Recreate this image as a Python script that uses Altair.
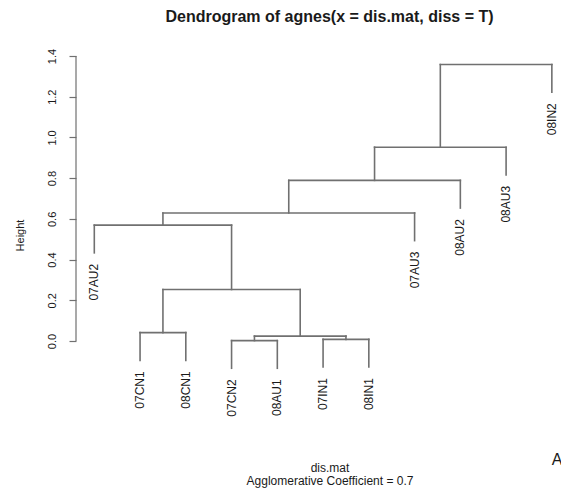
import altair as alt
import pandas as pd

# ---- data ----
leaves = ["07AU2", "07CN1", "08CN1", "07CN2", "08AU1", "07IN1", "08IN1",
          "07AU3", "08AU2", "08AU3", "08IN2"]
leaf_pos = [1, 2, 3, 4, 5, 6, 7, 8, 9, 10, 11]
leaf_end = [0.433, -0.095, -0.095, -0.134, -0.134, -0.128, -0.128,
            0.493, 0.653, 0.816, 1.222]
# R-style merge matrix: negative = leaf (1-based), positive = earlier merge
merge_left = [-4, -6, 1, -2, 4, -1, 6, 7, 8, 9]
merge_right = [-5, -7, 2, -3, 3, 5, -8, -9, -10, -11]
merge_height = [0.002, 0.008, 0.024, 0.041, 0.253, 0.569, 0.629, 0.789, 0.952, 1.358]
y_ticks = [0.0, 0.2, 0.4, 0.6, 0.8, 1.0, 1.2, 1.4]

title_text = "Dendrogram of  agnes(x = dis.mat, diss = T)"
xlab_text = "dis.mat"
sub_text = "Agglomerative Coefficient =  0.7"
panel_text = "A"

# ---- build segments ----
node_x, node_h = {}, {}


def child(c):
    if c < 0:
        return leaf_pos[-c - 1], leaf_end[-c - 1]
    return node_x[c], node_h[c]


rows = []
for i, (l, r, h) in enumerate(zip(merge_left, merge_right, merge_height), start=1):
    xl, yl = child(l)
    xr, yr = child(r)
    rows.append(dict(x=xl, x2=xr, y=h, y2=h))
    rows.append(dict(x=xl, x2=xl, y=yl, y2=h))
    rows.append(dict(x=xr, x2=xr, y=yr, y2=h))
    node_x[i] = (xl + xr) / 2
    node_h[i] = h
seg_df = pd.DataFrame(rows)
leaf_df = pd.DataFrame({"label": leaves, "x": leaf_pos, "y": leaf_end})

FONT = "Liberation Sans, Arial, Helvetica, sans-serif"
LINE = "#707070"
TEXT = "#1a1a1a"

x_domain = [0.6, 11.2]
xs = alt.Scale(domain=x_domain, nice=False, zero=False)
ys = alt.Scale(domain=[-0.727, 1.4], nice=False, zero=False)

# axis line only between first and last tick (R style)
axis_df = pd.DataFrame({"xa": [x_domain[0]], "lo": [min(y_ticks)], "hi": [max(y_ticks)]})

segs = alt.Chart(seg_df).mark_rule(color=LINE, strokeWidth=1.6, strokeCap="square").encode(
    x=alt.X("x:Q", scale=xs, axis=None),
    x2="x2:Q",
    y=alt.Y("y:Q", scale=ys, axis=alt.Axis(
        values=y_ticks, format=".1f", labelAngle=270, labelAlign="center",
        labelBaseline="bottom", labelPadding=12, tickSize=7, tickColor=LINE,
        tickWidth=1.2, domain=False, grid=False, labelFont=FONT,
        labelFontSize=11,
        labelColor=TEXT, title="Height", titleFont=FONT, titleFontSize=11,
        titleFontWeight="normal", titleColor=TEXT, titleAngle=270,
        titleAlign="center", titleBaseline="middle", titleX=-56, titleY=179)),
    y2="y2:Q",
)

axis_line = alt.Chart(axis_df).mark_rule(color=LINE, strokeWidth=1.2).encode(
    x=alt.X("xa:Q", scale=xs, axis=None),
    x2="xa:Q",
    y=alt.Y("lo:Q", scale=ys),
    y2="hi:Q",
)

labels = alt.Chart(leaf_df).mark_text(
    angle=270, align="right", baseline="middle", dx=-11,
    font=FONT, fontSize=12, color=TEXT,
).encode(
    x=alt.X("x:Q", scale=xs, axis=None),
    y=alt.Y("y:Q", scale=ys),
    text="label:N",
)

one = pd.DataFrame({"k": [0]})
xlab = alt.Chart(one).mark_text(text=xlab_text, font=FONT, fontSize=12, color=TEXT,
                                align="center", baseline="middle").encode(
    x=alt.value(254), y=alt.value(412))
sub = alt.Chart(one).mark_text(text=sub_text, font=FONT, fontSize=12, color=TEXT,
                               align="center", baseline="middle").encode(
    x=alt.value(254), y=alt.value(425))
panel = alt.Chart(one).mark_text(text=panel_text, font=FONT, fontSize=16, color=TEXT,
                                 align="center", baseline="middle").encode(
    x=alt.value(481), y=alt.value(404))

# note: .configure(...) replaces the whole config, so it must come first
chart = alt.layer(segs, axis_line, labels, xlab, sub, panel).properties(
    width=485,
    height=433,
    title=alt.TitleParams(title_text, font=FONT, fontSize=16, fontWeight="bold",
                          color=TEXT, anchor="middle", dx=11, offset=23),
    autosize=alt.AutoSizeParams(type="none"),
    padding={"left": 68, "top": 48, "right": 0, "bottom": 0},
).configure(background="white").configure_view(
    stroke="transparent", strokeWidth=0
).configure_axis(domain=False, grid=False)

chart.save("out.html", embed_options={"renderer": "svg", "actions": False})
